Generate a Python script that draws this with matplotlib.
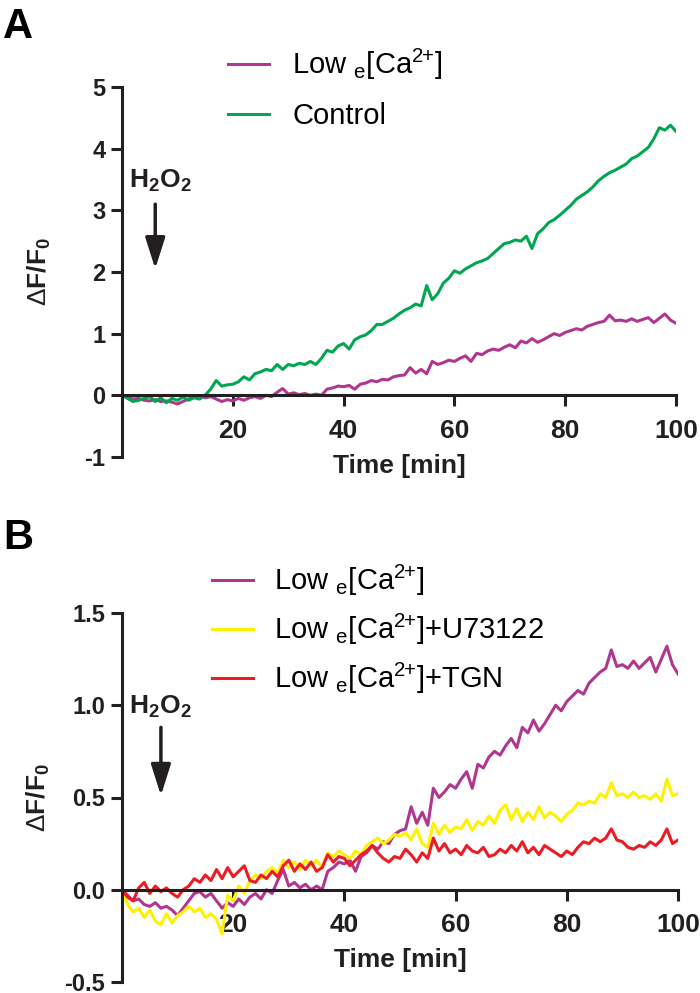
import numpy as np
from matplotlib import pyplot as plt

plt.rcParams['font.family'] = ['Liberation Sans', 'DejaVu Sans']
plt.rcParams['mathtext.fontset'] = 'custom'
plt.rcParams['mathtext.rm'] = 'Liberation Sans'
plt.rcParams['mathtext.it'] = 'Liberation Sans:italic'
plt.rcParams['mathtext.bf'] = 'Liberation Sans:bold'

# time points [min]
time = np.arange(0, 101)

# panel A / B: low extracellular Ca2+
low_ca = [0.00, -0.03, -0.06, -0.05, -0.08, -0.09, -0.07, -0.10, -0.09, -0.11,
          -0.14, -0.10, -0.06, -0.02, -0.01, -0.04, -0.02, -0.06, -0.10, -0.07,
          -0.09, -0.05, -0.08, -0.04, -0.02, -0.05, 0.00, -0.02, 0.05, 0.11,
          0.02, 0.04, 0.01, 0.03, 0.00, 0.02, 0.00, 0.10, 0.12, 0.15,
          0.14, 0.16, 0.10, 0.18, 0.20, 0.24, 0.22, 0.26, 0.25, 0.30,
          0.32, 0.33, 0.45, 0.36, 0.42, 0.35, 0.55, 0.50, 0.53, 0.57,
          0.55, 0.60, 0.64, 0.55, 0.68, 0.66, 0.72, 0.75, 0.73, 0.78,
          0.82, 0.77, 0.88, 0.85, 0.92, 0.86, 0.90, 0.95, 1.00, 0.97,
          1.02, 1.05, 1.08, 1.06, 1.12, 1.15, 1.18, 1.20, 1.30, 1.21,
          1.22, 1.20, 1.24, 1.20, 1.23, 1.26, 1.18, 1.25, 1.32, 1.22,
          1.17]

# panel A: control
control = [0.00, -0.05, -0.10, -0.08, -0.05, -0.02, -0.10, -0.04, -0.12, -0.05,
           -0.08, -0.03, -0.08, -0.04, -0.06, 0.00, 0.10, 0.24, 0.15, 0.17,
           0.18, 0.22, 0.30, 0.25, 0.35, 0.38, 0.42, 0.40, 0.50, 0.42,
           0.50, 0.48, 0.52, 0.50, 0.55, 0.50, 0.60, 0.73, 0.70, 0.80,
           0.84, 0.75, 0.90, 0.95, 0.98, 1.05, 1.15, 1.15, 1.20, 1.25,
           1.32, 1.38, 1.42, 1.48, 1.45, 1.78, 1.55, 1.65, 1.82, 1.90,
           2.02, 1.98, 2.05, 2.10, 2.15, 2.18, 2.22, 2.30, 2.38, 2.46,
           2.48, 2.52, 2.50, 2.58, 2.38, 2.62, 2.70, 2.80, 2.85, 2.92,
           3.00, 3.08, 3.18, 3.24, 3.30, 3.38, 3.48, 3.55, 3.61, 3.65,
           3.70, 3.75, 3.84, 3.88, 3.95, 4.02, 4.16, 4.34, 4.30, 4.38,
           4.28]

# panel B: low Ca2+ + U73122
u73122 = [0.00, -0.08, -0.12, -0.10, -0.15, -0.11, -0.17, -0.19, -0.13, -0.18,
          -0.14, -0.12, -0.09, -0.12, -0.10, -0.15, -0.13, -0.16, -0.24, -0.03,
          -0.06, 0.02, -0.02, 0.05, 0.08, 0.06, 0.10, 0.12, 0.09, 0.16,
          0.12, 0.15, 0.11, 0.16, 0.13, 0.16, 0.12, 0.20, 0.18, 0.21,
          0.19, 0.17, 0.21, 0.19, 0.24, 0.26, 0.28, 0.25, 0.27, 0.30,
          0.29, 0.31, 0.27, 0.33, 0.25, 0.23, 0.36, 0.30, 0.35, 0.31,
          0.34, 0.33, 0.38, 0.32, 0.37, 0.35, 0.40, 0.36, 0.43, 0.46,
          0.38, 0.44, 0.37, 0.42, 0.38, 0.45, 0.39, 0.42, 0.40, 0.37,
          0.41, 0.43, 0.47, 0.46, 0.48, 0.47, 0.52, 0.50, 0.58, 0.51,
          0.52, 0.50, 0.53, 0.50, 0.51, 0.49, 0.52, 0.48, 0.60, 0.51,
          0.52]

# panel B: low Ca2+ + TGN
tgn = [0.00, -0.04, -0.06, 0.01, 0.04, -0.02, 0.02, -0.01, 0.01, -0.02,
       -0.04, 0.00, 0.02, 0.06, 0.04, 0.08, 0.05, 0.11, 0.06, 0.12,
       0.07, 0.10, 0.13, 0.05, 0.04, 0.08, 0.06, 0.10, 0.07, 0.13,
       0.16, 0.10, 0.14, 0.11, 0.15, 0.10, 0.12, 0.19, 0.15, 0.18,
       0.17, 0.13, 0.16, 0.19, 0.21, 0.24, 0.20, 0.17, 0.15, 0.18,
       0.17, 0.22, 0.19, 0.15, 0.20, 0.17, 0.28, 0.21, 0.25, 0.20,
       0.22, 0.19, 0.24, 0.21, 0.20, 0.23, 0.18, 0.19, 0.22, 0.20,
       0.24, 0.21, 0.26, 0.20, 0.23, 0.19, 0.24, 0.22, 0.20, 0.18,
       0.21, 0.19, 0.23, 0.26, 0.25, 0.28, 0.26, 0.28, 0.33, 0.27,
       0.26, 0.23, 0.22, 0.24, 0.23, 0.26, 0.24, 0.27, 0.33, 0.25,
       0.27]

low_label = r'Low $_\mathrm{e}$[Ca$^{\mathrm{2}\hspace{-0.08}\mathrm{+}}$]'
purple = '#b0378f'
green = '#00a651'
yellow = '#fff200'
red = '#ed1c24'
ink = '#231f20'


def style_axes(ax, ylim, yticks, yfmt):
    ax.set_xlim(0, 100)
    ax.set_ylim(*ylim)
    ax.spines['top'].set_visible(False)
    ax.spines['right'].set_visible(False)
    ax.spines['bottom'].set_position(('data', 0))
    for s in ('left', 'bottom'):
        ax.spines[s].set_linewidth(2.2)
        ax.spines[s].set_color(ink)
    ax.set_xticks([20, 40, 60, 80, 100])
    ax.set_yticks(yticks)
    ax.set_yticklabels([yfmt.format(v) for v in yticks])
    ax.tick_params(direction='out', length=8, width=2.2, color=ink,
                   labelcolor=ink)
    ax.tick_params(axis='x', labelsize=19, pad=9)
    ax.tick_params(axis='y', labelsize=17, pad=4)
    for lab in ax.get_xticklabels() + ax.get_yticklabels():
        lab.set_fontweight('bold')
    ax.set_xlabel('Time [min]', fontsize=19, fontweight='bold', color=ink,
                  labelpad=8)
    ax.set_ylabel(r'$\Delta$F/F$_\mathbf{0}$', fontsize=19, fontweight='bold', color=ink)
    ax.yaxis.set_label_coords(-0.125, 0.5)


fig = plt.figure(figsize=(7, 9.93), dpi=100)

# ---- panel A
axA = fig.add_axes([122/700, 1-457/993, (676-122)/700, (457-87)/993])
axA.plot(time, low_ca, color=purple, lw=2.2, label=low_label)
axA.plot(time, control, color=green, lw=2.2, label='Control')
style_axes(axA, (-1, 5), [-1, 0, 1, 2, 3, 4, 5], '{:d}')
axA.text(1.2, 3.48, r'H$_\mathbf{2}$O$_\mathbf{2}$', fontsize=19, fontweight='bold',
         color=ink, va='center')
axA.annotate('', xy=(6, 2.05), xytext=(6, 3.1),
             arrowprops=dict(arrowstyle='-|>,head_length=0.95,head_width=0.3',
                             lw=2.5, color=ink, mutation_scale=20,
                             shrinkA=0, shrinkB=0))
axA.legend(loc='upper left', bbox_to_anchor=(228/700, 1-47/993),
           bbox_transform=fig.transFigure, frameon=False, fontsize=21,
           handlelength=1.4, handletextpad=0.8, borderpad=0, borderaxespad=0,
           labelspacing=0.69)
fig.text(0.004, 0.993, 'A', fontsize=30, fontweight='bold', va='top')

# ---- panel B
axB = fig.add_axes([122/700, 1-982/993, (678-122)/700, (982-613)/993])
axB.plot(time, low_ca, color=purple, lw=2.2, label=low_label)
axB.plot(time, u73122, color=yellow, lw=2.2, label=low_label + '+U73122')
axB.plot(time, tgn, color=red, lw=2.2, label=low_label + '+TGN')
style_axes(axB, (-0.5, 1.5), [-0.5, 0.0, 0.5, 1.0, 1.5], '{:.1f}')
axB.text(1.2, 0.99, r'H$_\mathbf{2}$O$_\mathbf{2}$', fontsize=19, fontweight='bold',
         color=ink, va='center')
axB.annotate('', xy=(7, 0.51), xytext=(7, 0.88),
             arrowprops=dict(arrowstyle='-|>,head_length=0.95,head_width=0.3',
                             lw=2.5, color=ink, mutation_scale=20,
                             shrinkA=0, shrinkB=0))
axB.legend(loc='upper left', bbox_to_anchor=(212/700, 1-563/993),
           bbox_transform=fig.transFigure, frameon=False, fontsize=21,
           handlelength=1.4, handletextpad=0.72, borderpad=0, borderaxespad=0,
           labelspacing=0.47)
fig.text(0.004, 1-518/993, 'B', fontsize=30, fontweight='bold', va='top')

fig.savefig('out.png', dpi=100)
